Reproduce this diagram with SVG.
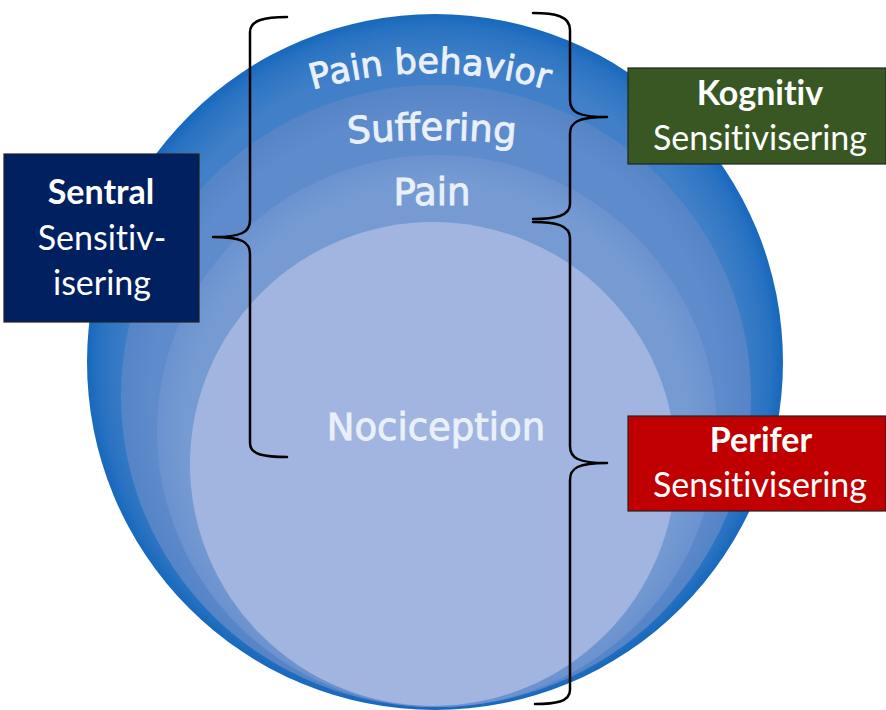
<svg xmlns="http://www.w3.org/2000/svg" width="886" height="710" viewBox="0 0 886 710">
<style>
.ring{font-family:"DejaVu Sans","Liberation Sans",sans-serif;fill:#eaf0fa;stroke:#eaf0fa;stroke-width:0.9;text-anchor:middle}
.brace{fill:none;stroke:#000;stroke-width:2.5;stroke-linecap:round;stroke-linejoin:round}
.box{stroke:#222;stroke-width:1.2}
.lbl{font-family:Lato,"Liberation Sans",sans-serif;fill:#fff;text-anchor:middle;font-size:34px;font-variant-ligatures:none;font-feature-settings:"liga" 0}
.b{font-weight:bold}
</style>
<defs>
<radialGradient id="gOuter" cx="0.5" cy="0.5" r="0.5">
<stop offset="0.86" stop-color="#4180c8"/>
<stop offset="0.96" stop-color="#2a73c2"/>
<stop offset="1" stop-color="#1768bd"/>
</radialGradient>
<radialGradient id="gSuff" cx="0.5" cy="0.5" r="0.5">
<stop offset="0.9" stop-color="#5e8bcb"/>
<stop offset="1" stop-color="#5584c7"/>
</radialGradient>
<radialGradient id="gPain" cx="0.5" cy="0.5" r="0.5">
<stop offset="0.9" stop-color="#769bd3"/>
<stop offset="1" stop-color="#6b92cf"/>
</radialGradient>
<path id="arcPB" d="M280,100.7 A420,420 0 0 1 580,100.7"/>
<path id="arcSuf" d="M300,149.7 A900,900 0 0 1 564,149.7"/>
</defs>

<g id="layers">
<ellipse id="painBehavior" cx="435" cy="362" rx="348" ry="348" fill="url(#gOuter)"/>
<ellipse id="suffering" cx="436" cy="396" rx="315" ry="311" fill="url(#gSuff)"/>
<ellipse id="pain" cx="437" cy="431" rx="280" ry="276" fill="url(#gPain)"/>
<ellipse id="nociception" cx="433" cy="464" rx="243" ry="242" fill="#a2b5e0"/>
</g>

<g id="ringLabels">
<text class="ring" font-size="35"><textPath href="#arcPB" startOffset="50%">Pain behavior</textPath></text>
<text class="ring" font-size="37"><textPath href="#arcSuf" startOffset="50%">Suffering</textPath></text>
<text class="ring" font-size="37" x="432" y="205">Pain</text>
<text class="ring" font-size="37" x="436" y="440">Nociception</text>
</g>

<g id="connectors">
<path class="brace" d="M287,17 C265,17 250,20 250,32 L250,220 C250,232 242,237 213,237 C242,237 250,242 250,254 L250,443 C250,455 265,457 287,457"/>
<path class="brace" d="M533,13 C555,13 570,16 570,30 L570,100 C570,112 578,117 607,117 C578,117 570,122 570,134 L570,204 C570,216 555,219 533,219"/>
<path class="brace" d="M533,222 C555,222 570,225 570,238 L570,446 C570,458 578,463 607,463 C578,463 570,468 570,480 L570,690 C570,702 555,704 535,704"/>
</g>

<g id="sentral">
<rect class="box" x="4" y="154" width="195" height="168" fill="#002060"/>
<text class="lbl b" x="101" y="204">Sentral</text>
<text class="lbl" x="102" y="250">Sensitiv-</text>
<text class="lbl" x="102" y="295">isering</text>
</g>

<g id="kognitiv">
<rect class="box" x="628" y="68" width="258" height="96" fill="#385723"/>
<text class="lbl b" x="760" y="105">Kognitiv</text>
<text class="lbl" x="760" y="150">Sensitivisering</text>
</g>

<g id="perifer">
<rect class="box" x="628" y="416" width="258" height="95" fill="#c00000"/>
<text class="lbl b" x="761" y="452">Perifer</text>
<text class="lbl" x="760" y="497">Sensitivisering</text>
</g>
</svg>
